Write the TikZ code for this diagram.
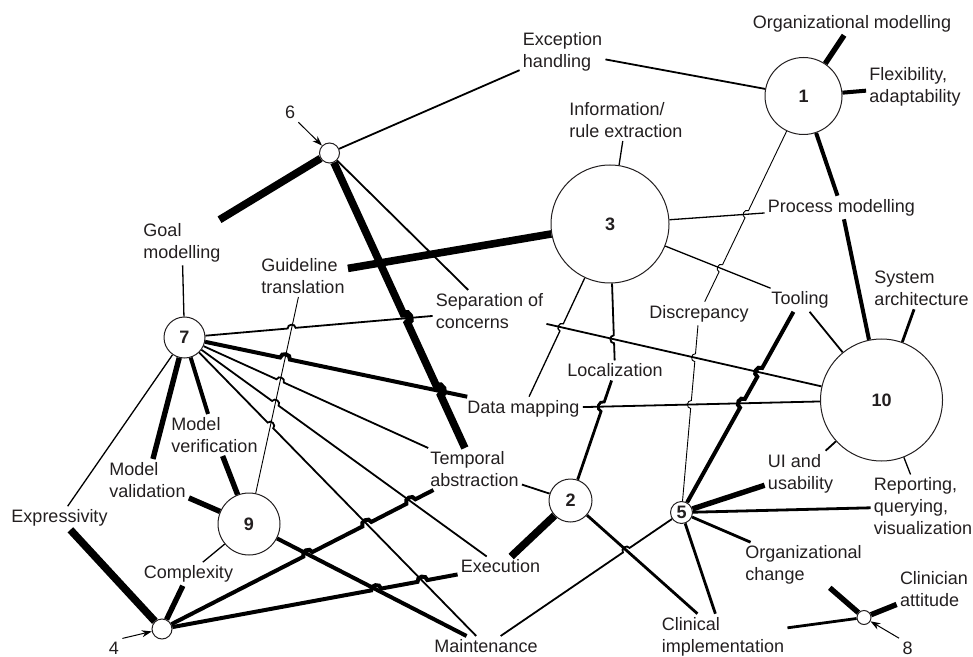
\documentclass[tikz,border=0pt]{standalone}
\usepackage{fontspec}
\setmainfont{Liberation Sans}
\usetikzlibrary{calc,arrows.meta,backgrounds}
\definecolor{ink}{HTML}{231F20}
\tikzset{
	topic/.style={circle,draw=ink,fill=white,line width=0.5pt,inner sep=0pt,font=\fontsize{9pt}{11pt}\selectfont\bfseries},
	lbl/.style={align=left,inner sep=1.5pt,font=\fontsize{9pt}{11pt}\selectfont},
	lw1/.style={line width=0.45pt},
	lw2/.style={line width=0.65pt},
	lw3/.style={line width=0.9pt},
	lw4/.style={line width=1.4pt},
	lw5/.style={line width=2pt},
	lw6/.style={line width=2.7pt},
	lw7/.style={line width=3.8pt},
	hopto/.style={bend left=90,looseness=1.5}
}
\begin{document}
\begin{tikzpicture}[x=0.5pt,y=-0.5pt,color=ink,line cap=round]
	\useasboundingbox (0,0) rectangle (973,657);

	% Cerchi
	\node[topic,minimum size=38.5pt] (t1) at (803.5,96) {1};
	\node[topic,minimum size=59pt] (t3) at (610,224) {3};
	\node[topic,minimum size=61pt] (t10) at (881.5,400) {10};
	\node[topic,minimum size=20.5pt] (t7) at (184.5,337.5) {7};
	\node[topic,minimum size=31pt] (t9) at (249,524) {9};
	\node[topic,minimum size=21.5pt] (t2) at (570.5,500.5) {2};
	\node[topic,minimum size=11pt] (t5) at (681.5,512.5) {5};
	\node[topic,minimum size=10pt] (t6) at (329.5,153) {};
	\node[topic,minimum size=10pt] (t4) at (162,629) {};
	\node[topic,minimum size=7pt] (t8) at (864,617.5) {};

	% Etichette
	\node[lbl] (om) at (852,23.5) {Organizational modelling};
	\node[lbl] (flex) at (915,86.5) {Flexibility,\\adaptability};
	\node[lbl] (eh) at (562.5,51.5) {Exception\\handling};
	\node[lbl] (info) at (626,120) {Information/\\rule extraction};
	\node[lbl] (pm) at (841.5,207.5) {Process modelling};
	\node[lbl] (sys) at (921.5,288.5) {System\\architecture};
	\node[lbl] (tool) at (800,300) {Tooling};
	\node[lbl] (dis) at (699,313.5) {Discrepancy};
	\node[lbl] (gm) at (182,242.5) {Goal\\modelling};
	\node[lbl] (gt) at (303,276) {Guideline\\translation};
	\node[lbl] (soc) at (489.5,311) {Separation of\\concerns};
	\node[lbl] (loc) at (615,370.5) {Localization};
	\node[lbl] (dm) at (523.5,408.5) {Data mapping};
	\node[lbl] (ta) at (474.5,469) {Temporal\\abstraction};
	\node[lbl] (mver) at (214.5,435) {Model\\verification};
	\node[lbl] (mval) at (147.5,480) {Model\\validation};
	\node[lbl] (expr) at (59.5,518) {Expressivity};
	\node[lbl] (cplx) at (188.5,574) {Complexity};
	\node[lbl] (exe) at (500.5,566.5) {Execution};
	\node[lbl] (mnt) at (486,646) {Maintenance};
	\node[lbl] (ui) at (800.5,473.5) {UI and\\usability};
	\node[lbl] (rep) at (923,506.5) {Reporting,\\querying,\\visualization};
	\node[lbl] (oc) at (803.5,565) {Organizational\\change};
	\node[lbl] (clin) at (934,589.5) {Clinician\\attitude};
	\node[lbl] (ci) at (723,636.5) {Clinical\\implementation};
	\node[lbl] (l6) at (290,112.5) {6};
	\node[lbl] (l4) at (114,648) {4};
	\node[lbl] (l8) at (907.5,648) {8};

	% Incroci (salti)
	\coordinate (h1) at (intersection of dis--t1 and t3--tool);
	\coordinate (h2) at (intersection of dis--t1 and t3--pm);
	\coordinate (h3) at (intersection of loc--t3 and soc--t10);
	\coordinate (h4) at (intersection of dm--t3 and soc--t10);
	\coordinate (h5) at (intersection of t6--ta and t7--soc);
	\coordinate (h6) at (intersection of t6--ta and t7--dm);
	\coordinate (h7) at (intersection of t7--soc and t9--gt);
	\coordinate (h8) at (intersection of t7--dm and t9--gt);
	\coordinate (h9) at (intersection of t7--ta and t9--gt);
	\coordinate (h10) at (intersection of t7--exe and t9--gt);
	\coordinate (h11) at (intersection of t7--mnt and t9--gt);
	\coordinate (h12) at (intersection of t4--ta and t9--mnt);
	\coordinate (h13) at (intersection of t4--ta and t7--mnt);
	\coordinate (h14) at (intersection of t4--ta and t7--exe);
	\coordinate (h15) at (intersection of t4--exe and t9--mnt);
	\coordinate (h16) at (intersection of t4--exe and t7--mnt);
	\coordinate (h17) at (intersection of t2--loc and dm--t10);
	\coordinate (h18) at (intersection of mnt--t5 and t2--ci);
	\coordinate (h19) at (intersection of t5--tool and dm--t10);
	\coordinate (h20) at (intersection of t5--tool and soc--t10);
	\coordinate (h21) at (intersection of t5--dis and dm--t10);
	\coordinate (h22) at (intersection of t5--dis and soc--t10);

	\begin{scope}[on background layer]
		% Cerchio 1
		\draw[lw6] (t1) -- (om);
		\draw[lw5] (t1) -- (flex);
		\draw[lw3] (t1) -- (eh);
		\draw[lw5] (t1) -- (pm);
		\draw[lw1] (dis) -- ($(h1)!2pt!(dis)$) to[hopto] ($(h1)!2pt!(t1)$) -- ($(h2)!2pt!(dis)$) to[hopto] ($(h2)!2pt!(t1)$) -- (t1);

		% Cerchio 3
		\draw[lw2] (t3) -- (info);
		\draw[lw2] (t3) -- (pm);
		\draw[lw2] (t3) -- (tool);
		\draw[lw3] (loc) -- ($(h3)!2pt!(loc)$) to[hopto] ($(h3)!2pt!(t3)$) -- (t3);
		\draw[lw2] (dm) -- ($(h4)!2pt!(dm)$) to[hopto] ($(h4)!2pt!(t3)$) -- (t3);
		\draw[lw7] (t3) -- (gt);

		% Cerchio 6
		\draw[lw3] (t6) -- (eh);
		\draw[lw7] (t6) -- (gm);
		\draw[lw7] (t6) -- ($(h5)!2.5pt!(t6)$) to[hopto] ($(h5)!2.5pt!(ta)$) -- ($(h6)!2.5pt!(t6)$) to[hopto] ($(h6)!2.5pt!(ta)$) -- (ta);
		\draw[lw3] (t6) -- (soc);

		% Cerchio 7
		\draw[lw2] (t7) -- (gm);
		\draw[lw3] (t7) -- ($(h7)!2pt!(t7)$) to[hopto] ($(h7)!2pt!(soc)$) -- (soc);
		\draw[lw5] (t7) -- ($(h8)!2.5pt!(t7)$) to[hopto] ($(h8)!2.5pt!(dm)$) -- (dm);
		\draw[lw3] (t7) -- ($(h9)!2pt!(t7)$) to[hopto] ($(h9)!2pt!(ta)$) -- (ta);
		\draw[lw3] (t7) -- ($(h10)!2pt!(t7)$) to[hopto] ($(h10)!2pt!(exe)$) -- (exe);
		\draw[lw3] (t7) -- ($(h11)!2pt!(t7)$) to[hopto] ($(h11)!2pt!(mnt)$) -- (mnt);
		\draw[lw2] (t7) -- (expr);
		\draw[lw6] (t7) -- (mval);
		\draw[lw5] (t7) -- (mver);

		% Cerchio 9
		\draw[lw6] (t9) -- (mver);
		\draw[lw6] (t9) -- (mval);
		\draw[lw2] (t9) -- (cplx);
		\draw[lw1] (t9) -- (gt);
		\draw[lw5] (t9) -- (mnt);

		% Cerchio 4
		\draw[lw7] (t4) -- (expr);
		\draw[lw6] (t4) -- (cplx);
		\draw[lw5] (t4) -- ($(h12)!2.5pt!(t4)$) to[hopto] ($(h12)!2.5pt!(ta)$) -- ($(h13)!2.5pt!(t4)$) to[hopto] ($(h13)!2.5pt!(ta)$) -- ($(h14)!2.5pt!(t4)$) to[hopto] ($(h14)!2.5pt!(ta)$) -- (ta);
		\draw[lw5] (t4) -- ($(h15)!2.5pt!(t4)$) to[hopto] ($(h15)!2.5pt!(exe)$) -- ($(h16)!2.5pt!(t4)$) to[hopto] ($(h16)!2.5pt!(exe)$) -- (exe);

		% Cerchio 2
		\draw[lw3] (t2) -- (ta);
		\draw[lw4] (t2) -- ($(h17)!2.5pt!(t2)$) to[hopto] ($(h17)!2.5pt!(loc)$) -- (loc);
		\draw[lw7] (t2) -- (exe);
		\draw[lw4] (t2) -- (ci);

		% Cerchio 5
		\draw[lw3] (mnt) -- ($(h18)!2pt!(mnt)$) to[hopto] ($(h18)!2pt!(t5)$) -- (t5);
		\draw[lw4] (t5) -- (ci);
		\draw[lw4] (t5) -- (oc);
		\draw[lw4] (t5) -- (rep);
		\draw[lw6] (t5) -- (ui);
		\draw[lw5] (t5) -- ($(h19)!2.5pt!(t5)$) to[hopto] ($(h19)!2.5pt!(tool)$) -- ($(h20)!2.5pt!(t5)$) to[hopto] ($(h20)!2.5pt!(tool)$) -- (tool);
		\draw[lw1] (t5) -- ($(h21)!2pt!(t5)$) to[hopto] ($(h21)!2pt!(dis)$) -- ($(h22)!2pt!(t5)$) to[hopto] ($(h22)!2pt!(dis)$) -- (dis);

		% Cerchio 10
		\draw[lw3] (t10) -- (tool);
		\draw[lw5] (pm) -- (t10);
		\draw[lw4] (t10) -- (sys);
		\draw[lw3] (t10) -- (ui);
		\draw[lw2] (t10) -- (rep);
		\draw[lw3] (soc) -- (t10);
		\draw[lw3] (dm) -- (t10);

		% Cerchio 8
		\draw[lw6] (t8) -- (oc);
		\draw[lw6] (t8) -- (clin);
		\draw[lw4] (t8) -- (ci);

		% Frecce
		\draw[line width=0.5pt,-{Stealth[length=5pt,width=3.5pt]}] (l6.south east) -- (t6);
		\draw[line width=0.5pt,-{Stealth[length=5pt,width=3.5pt]}] (l4.north east) -- (t4);
		\draw[line width=0.5pt,-{Stealth[length=5pt,width=3.5pt]}] (l8.north west) -- (t8);
	\end{scope}
\end{tikzpicture}
\end{document}
